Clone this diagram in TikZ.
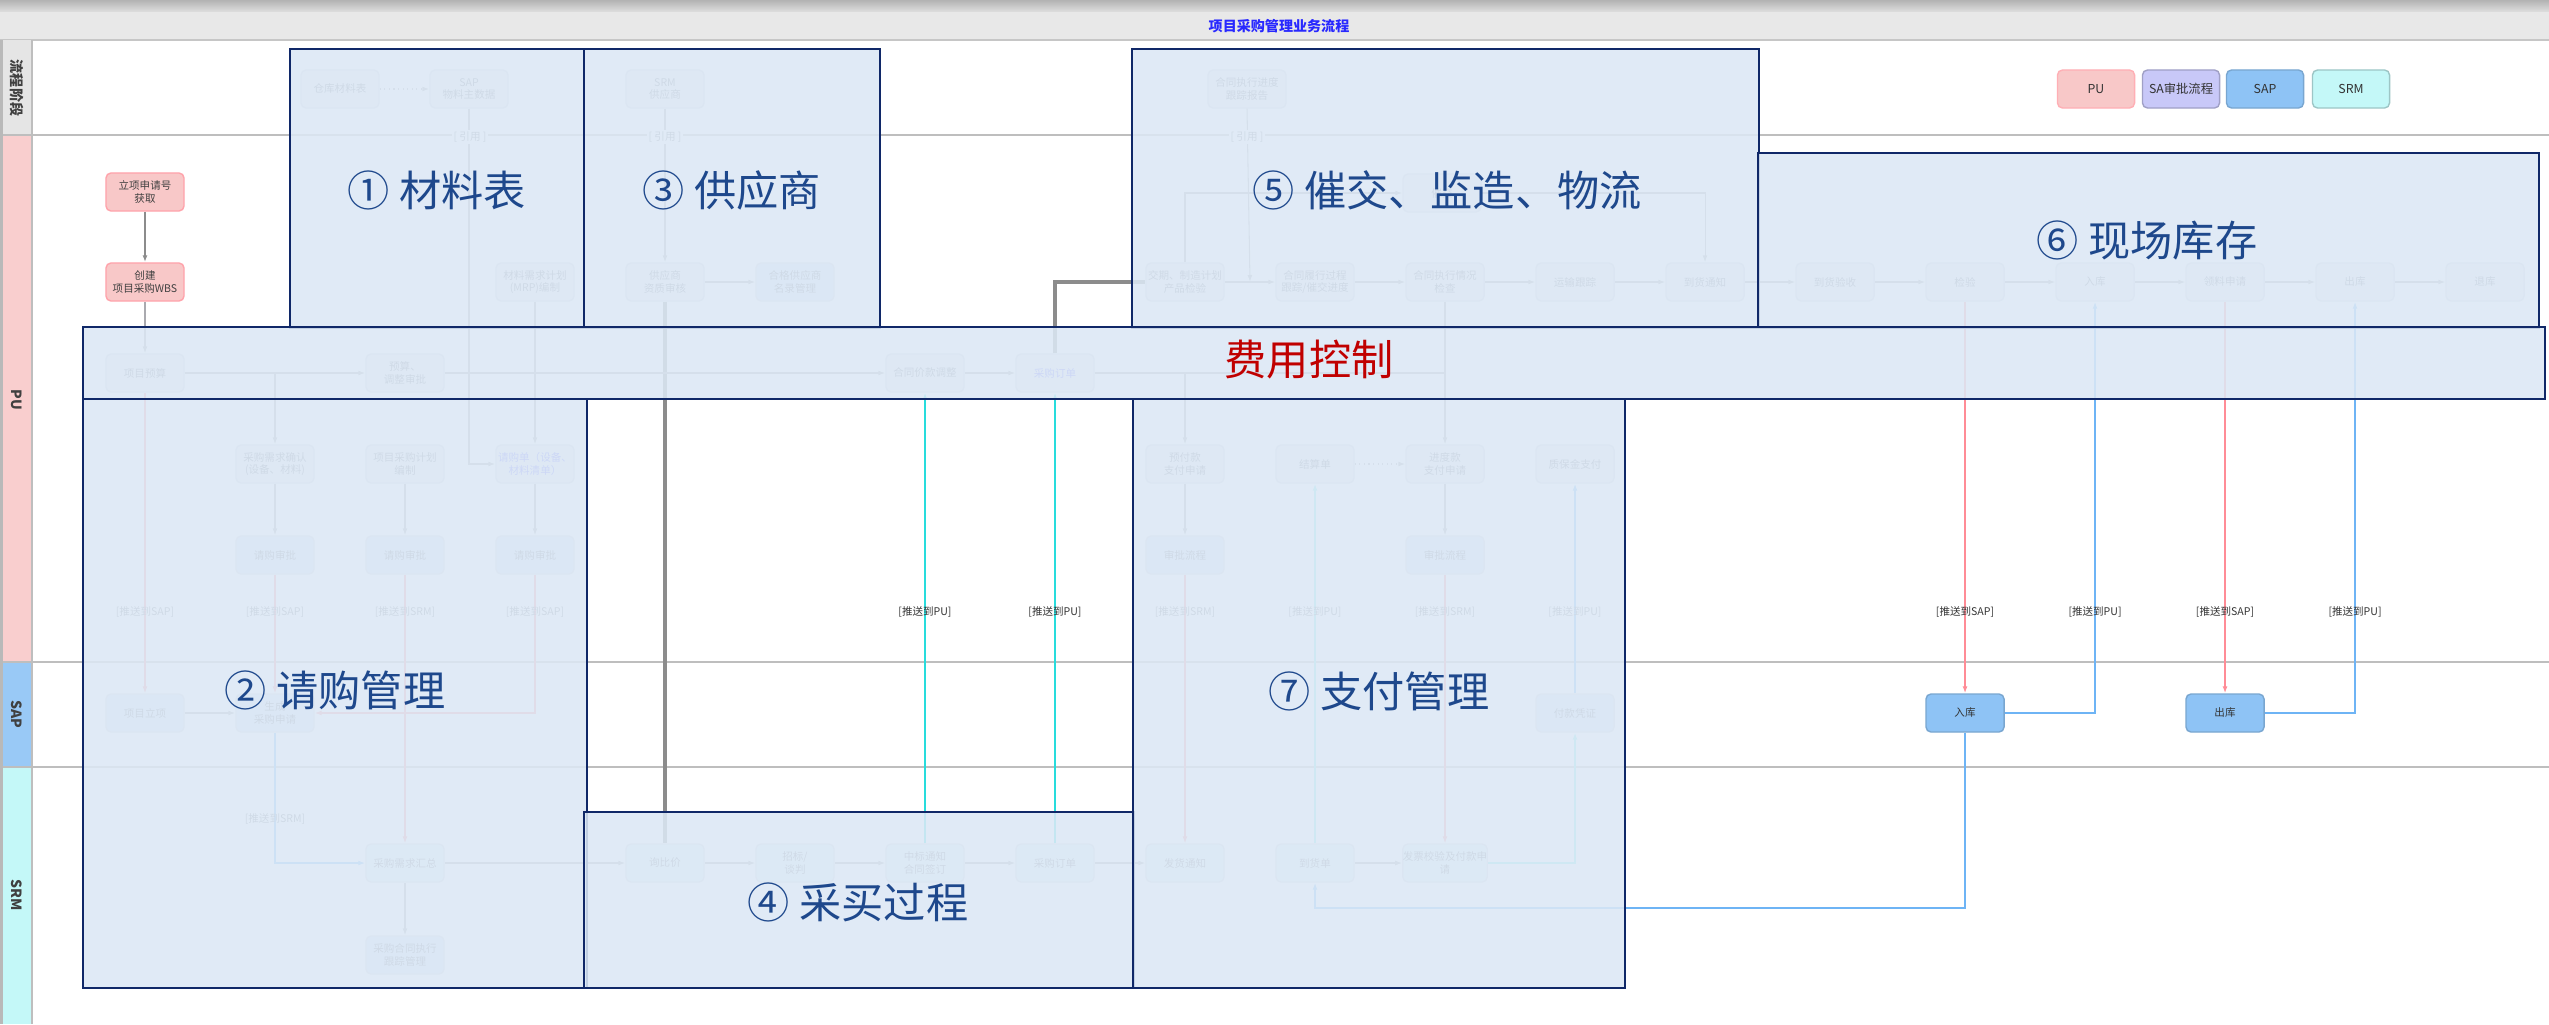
\documentclass[tikz,border=0pt]{standalone}
\usepackage{fontspec}
\setmainfont{Noto Sans CJK SC}
\usetikzlibrary{arrows.meta}
\definecolor{navy}{RGB}{16,40,104}
\definecolor{ovfill}{RGB}{220,232,245}
\definecolor{ovtext}{RGB}{30,72,140}
\definecolor{ctrlred}{RGB}{192,0,0}
\definecolor{ndfill}{RGB}{236,236,242}
\definecolor{ndborder}{RGB}{215,215,225}
\definecolor{ndtext}{RGB}{120,120,130}
\definecolor{pinkfill}{RGB}{248,200,200}
\definecolor{pinkline}{RGB}{255,140,150}
\definecolor{sapfill}{RGB}{142,195,245}
\definecolor{srmfill}{RGB}{196,248,248}
\definecolor{lavfill}{RGB}{200,200,248}
\definecolor{bluefill}{RGB}{214,228,248}
\definecolor{cyanfill}{RGB}{225,246,250}
\definecolor{blueline}{RGB}{110,180,245}
\definecolor{cyanline}{RGB}{40,220,220}
\definecolor{grayline}{RGB}{170,170,175}
\definecolor{darkline}{RGB}{140,140,140}
\definecolor{laneline}{RGB}{190,190,190}
\definecolor{titleblue}{RGB}{40,40,255}
\newcommand\ovfont{\fontsize{12}{14}\selectfont}
\newcommand\tinyfont{\fontsize{3}{3.6}\selectfont}
\begin{document}
\begin{tikzpicture}[x=0.01cm,y=-0.01cm,
  nd/.style={draw=ndborder, fill=ndfill, rounded corners=0.05cm, minimum width=0.78cm, minimum height=0.38cm, inner sep=0pt, align=center, text=ndtext, font=\tinyfont},
  pinknd/.style={nd, fill=pinkfill, draw=pinkline!80, text=black!75},
  sapnd/.style={nd, fill=sapfill, draw=sapfill!85!black, text=black!80},
  bnd/.style={nd, fill=bluefill},
  cnd/.style={nd, fill=cyanfill},
  lgnd/.style={nd, minimum width=0.77cm, text=black!80, font=\fontsize{3.5}{4}\selectfont},
  lbl/.style={font=\tinyfont, text=black!80, inner sep=0.5pt},
  flbl/.style={lbl, text=ndtext},
  hlbl/.style={flbl, fill=white},
  ln/.style={draw=grayline, line width=0.3pt, -{Latex[length=0.07cm,width=0.05cm]}},
  lnplain/.style={draw=grayline, line width=0.3pt},
  dk/.style={draw=darkline, line width=0.4pt, -{Latex[length=0.07cm,width=0.05cm]}},
  thick gray/.style={draw=darkline, line width=1pt},
  pl/.style={ln, draw=pinkline},
  bl/.style={ln, draw=blueline, line width=0.4pt},
  cl/.style={ln, draw=cyanline, line width=0.5pt},
  ovbox/.style={draw=navy, line width=0.65pt, fill=ovfill, fill opacity=0.87},
  ovlabel/.style={text=ovtext, font=\ovfont, inner sep=0pt}
]
\useasboundingbox (0,0) rectangle (2549,1024);
\fill[white] (0,0) rectangle (2549,1024);
% top bars
\shade[top color=gray!60, bottom color=gray!25] (0,0) rectangle (2549,12);
\fill[gray!18] (0,12) rectangle (2549,40);
\draw[gray!45, line width=0.6pt] (0,40) -- (2549,40);
\node[font=\bfseries\fontsize{4}{5}\selectfont, text=titleblue] (title) at (1279,26) {项目采购管理业务流程};
% lane label column
\fill[gray!55] (0,40) rectangle (3,1024);
\fill[gray!20] (3,40) rectangle (32,135);
\fill[pinkfill!90] (3,135) rectangle (32,662);
\fill[sapfill!90] (3,662) rectangle (32,767);
\fill[srmfill] (3,767) rectangle (32,1024);
\node[rotate=-90, font=\bfseries\fontsize{4}{5}\selectfont, text=black!75] (lane0) at (17,88) {流程阶段};
\node[rotate=-90, font=\bfseries\fontsize{4}{5}\selectfont, text=black!75] (lane1) at (17,400) {PU};
\node[rotate=-90, font=\bfseries\fontsize{4}{5}\selectfont, text=black!75] (lane2) at (17,714) {SAP};
\node[rotate=-90, font=\bfseries\fontsize{4}{5}\selectfont, text=black!75] (lane3) at (17,895) {SRM};
% lane separators
\draw[laneline, line width=0.8pt] (3,135) -- (2549,135);
\draw[laneline, line width=0.8pt] (3,662) -- (2549,662);
\draw[laneline, line width=0.8pt] (3,767) -- (2549,767);
\draw[laneline, line width=0.5pt] (32,40) -- (32,1024);

% legend
\node[lgnd, fill=pinkfill, draw=pinkline!70] (lg1) at (2096,89) {PU};
\node[lgnd, fill=lavfill, draw=lavfill!80!black] (lg2) at (2181,89) {SA审批流程};
\node[lgnd, fill=sapfill, draw=sapfill!85!black] (lg3) at (2265,89) {SAP};
\node[lgnd, fill=srmfill, draw=srmfill!80!black] (lg4) at (2351,89) {SRM};

% header row
\node[nd] (h1) at (340,89) {仓库材料表};
\node[nd] (h2) at (469,89) {SAP\\物料主数据};
\node[nd] (h3) at (665,89) {SRM\\供应商};
\node[nd] (h4) at (1247,89) {合同执行进度\\跟踪报告};

% PU rows
\node[pinknd] (p0a) at (145,192) {立项申请号\\获取};
\node[nd] (u10) at (1442,193) {催交};
\node[pinknd] (p0b) at (145,282) {创建\\项目采购WBS};
\node[nd] (p3) at (535,282) {材料需求计划\\(MRP)编制};
\node[nd] (p4) at (665,282) {供应商\\资质审核};
\node[bnd] (p5) at (795,282) {合格供应商\\名录管理};
\node[nd] (p8) at (1185,282) {交期、制造计划\\产品检验};
\node[nd] (p9) at (1315,282) {合同履行过程\\跟踪/催交进度};
\node[nd] (p10) at (1445,282) {合同执行情况\\检查};
\node[nd] (p11) at (1575,282) {运输跟踪};
\node[nd] (p12) at (1705,282) {到货通知};
\node[nd] (p13) at (1835,282) {到货验收};
\node[nd] (p14) at (1965,282) {检验};
\node[nd] (p15) at (2095,282) {入库};
\node[nd] (p16) at (2225,282) {领料申请};
\node[nd] (p17) at (2355,282) {出库};
\node[nd] (p18) at (2485,282) {退库};

\node[nd] (q0) at (145,373) {项目预算};
\node[nd] (q2) at (405,373) {预算、\\调整审批};
\node[nd] (q6) at (925,373) {合同价款调整};
\node[nd, text=blue!60] (q7) at (1055,373) {采购订单};

\node[nd] (s1) at (275,464) {采购需求确认\\(设备、材料)};
\node[nd] (s2) at (405,464) {项目采购计划\\编制};
\node[nd, text=blue!60] (s3) at (535,464) {请购单（设备、\\材料清单）};
\node[nd] (s8) at (1185,464) {预付款\\支付申请};
\node[nd] (s9) at (1315,464) {结算单};
\node[nd] (s10) at (1445,464) {进度款\\支付申请};
\node[nd] (s11) at (1575,464) {质保金支付};

\node[bnd] (t1) at (275,555) {请购审批};
\node[bnd] (t2) at (405,555) {请购审批};
\node[bnd] (t3) at (535,555) {请购审批};
\node[bnd] (t8) at (1185,555) {审批流程};
\node[bnd] (t10) at (1445,555) {审批流程};

% SAP row
\node[bnd] (a0) at (145,713) {项目立项};
\node[bnd] (a1) at (275,713) {生成\\采购申请};
\node[bnd] (a11) at (1575,713) {付款凭证};
\node[sapnd] (a14) at (1965,713) {入库};
\node[sapnd] (a16) at (2225,713) {出库};

% SRM rows
\node[cnd] (m2) at (405,863) {采购需求汇总};
\node[cnd] (m4) at (665,863) {询比价};
\node[cnd] (m5) at (795,863) {招标/\\谈判};
\node[cnd] (m6) at (925,863) {中标通知\\合同签订};
\node[cnd] (m7) at (1055,863) {采购订单};
\node[cnd] (m8) at (1185,863) {发货通知};
\node[cnd] (m9) at (1315,863) {到货单};
\node[cnd] (m10) at (1445,863) {发票校验及付款申\\请};
\node[bnd] (m2b) at (405,955) {采购合同执行\\跟踪管理};

% connectors
\draw[ln, densely dotted] (h1) -- (h2);
\draw[ln] (h2.south) |- (s3.west);
\draw[ln] (h3) -- (p4);
\draw[thick gray] (p4) -- (m4);
\draw[ln] (p4) -- (p5);
\draw[ln] (p3) -- (s3);
\draw[dk] (p0a) -- (p0b);
\draw[ln] (p0b) -- (q0);
\draw[ln] (q0) -- (q2);
\draw[ln] (q0.east) -| (s1.north);
\draw[ln] (q2) -- (q6);
\draw[ln] (q6) -- (q7);
\draw[ln] (q7.east) -| (s8.north);
\draw[lnplain] (q7.east) -- (q7 -| s10);
\draw[thick gray] (q7.north) |- (p8.west);
\draw[ln] (p10) -- (s10);
\draw[ln] (p8.north) |- (u10.west);
\draw[ln] (u10.east) -| (p12.north);
\coordinate (j89) at (1250,282);
\draw[ln] (h4.south) -- (j89);
\foreach \a/\b in {p8/p9,p9/p10,p10/p11,p11/p12,p12/p13,p13/p14,p14/p15,p15/p16,p16/p17,p17/p18}
  \draw[ln] (\a) -- (\b);
\draw[ln] (s1) -- (t1);
\draw[ln] (s2) -- (t2);
\draw[ln] (s3) -- (t3);
\draw[ln] (s8) -- (t8);
\draw[ln, densely dotted] (s9) -- (s10);
\draw[ln] (s10) -- (t10);
\draw[pl] (q0) -- (a0);
\draw[pl] (t1) -- (a1);
\draw[pl] (t3.south) |- (a1.east);
\draw[pl] (t2) -- (m2);
\draw[ln] (a0) -- (a1);
\draw[bl] (a1.south) |- (m2.west);
\draw[ln] (m2) -- (m2b);
\draw[ln] (m2) -- (m4);
\foreach \a/\b in {m4/m5,m5/m6,m6/m7,m7/m8,m9/m10}
  \draw[ln] (\a) -- (\b);
\draw[cl] (m6) -- (q6);
\draw[cl] (m7) -- (q7);
\draw[pl] (t8) -- (m8);
\draw[pl] (t10) -- (m10);
\draw[cl, draw=cyanline!60] (m9) -- (s9);
\draw[cl, draw=cyanline!60] (m10.east) -| (a11.south);
\draw[bl] (a11) -- (s11);
\draw[pl, line width=0.5pt] (p14) -- (a14);
\draw[bl] (a14.east) -| (p15.south);
\draw[pl, line width=0.5pt] (p16) -- (a16);
\draw[bl] (a16.east) -| (p17.south);
\coordinate (rt) at (1965,908);
\draw[bl, line width=0.6pt] (a14.south) -- (rt) -| (m9.south);

% labels
\node[hlbl] (hl1) at (470,137) {[ 引用 ]};
\node[hlbl] (hl2) at (665,137) {[ 引用 ]};
\node[hlbl] (hl3) at (1247,137) {[ 引用 ]};
\node[flbl] (l0) at (145,612) {[推送到SAP]};
\node[flbl] (l1) at (275,612) {[推送到SAP]};
\node[flbl] (l2) at (405,612) {[推送到SRM]};
\node[flbl] (l3) at (535,612) {[推送到SAP]};
\node[flbl] (lm) at (275,819) {[推送到SRM]};
\node[lbl] (l6) at (925,612) {[推送到PU]};
\node[lbl] (l7) at (1055,612) {[推送到PU]};
\node[flbl] (l8) at (1185,612) {[推送到SRM]};
\node[flbl] (l9) at (1315,612) {[推送到PU]};
\node[flbl] (l10) at (1445,612) {[推送到SRM]};
\node[flbl] (l11) at (1575,612) {[推送到PU]};
\node[lbl] (l14) at (1965,612) {[推送到SAP]};
\node[lbl] (l15) at (2095,612) {[推送到PU]};
\node[lbl] (l16) at (2225,612) {[推送到SAP]};
\node[lbl] (l17) at (2355,612) {[推送到PU]};

% overlay boxes
\path[ovbox] (290,49) rectangle (584,328);
\path[ovbox] (584,49) rectangle (880,328);
\path[ovbox] (1132,49) rectangle (1759,328);
\path[ovbox] (1758,153) rectangle (2539,328);
\path[ovbox] (83,327) rectangle (2545,399);
\path[ovbox] (83,399) rectangle (587,988);
\path[ovbox] (584,812) rectangle (1134,988);
\path[ovbox] (1133,399) rectangle (1625,988);

\node[ovlabel] (o1) at (437,190) {① 材料表};
\node[ovlabel] (o3) at (732,190) {③ 供应商};
\node[ovlabel] (o5) at (1447,190) {⑤ 催交、监造、物流};
\node[ovlabel] (o6) at (2147,240) {⑥ 现场库存};
\node[ovlabel, text=ctrlred] (oc) at (1309,360) {费用控制};
\node[ovlabel] (o2) at (335,690) {② 请购管理};
\node[ovlabel] (o4) at (858,902) {④ 采买过程};
\node[ovlabel] (o7) at (1379,691) {⑦ 支付管理};
\end{tikzpicture}
\end{document}
